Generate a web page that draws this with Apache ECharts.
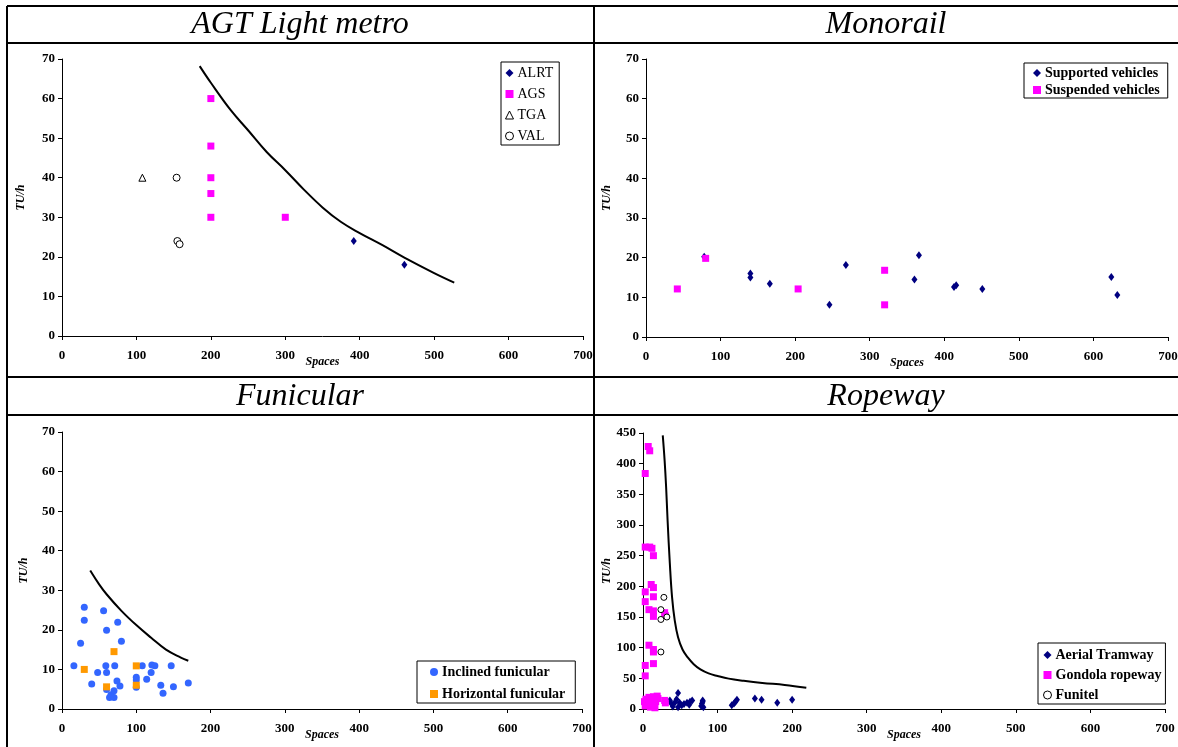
<!DOCTYPE html>
<html>
<head>
<meta charset="utf-8">
<script src="https://cdn.jsdelivr.net/npm/echarts@6/dist/echarts.min.js"></script>
<style>
  html, body { margin: 0; padding: 0; background: #fff; }
  #chart { width: 1178px; height: 747px; }
</style>
</head>
<body>
<div id="chart"></div>
<script>
// AGT Light metro
const alrtData = [[392, 24], [460, 18]];
const agsData = [[200, 60], [200, 48], [200, 40], [200, 36], [200, 30], [300, 30]];
const tgaData = [[108, 40]];
const valData = [[154, 40], [155, 24], [158, 23.2]];
const agtCurve = [[185, 68.2], [200, 64], [227, 57], [250, 52], [275, 46.5], [300, 41.9], [325, 37],
  [350, 32.5], [375, 28.8], [400, 26], [430, 23], [460, 19.8], [500, 15.9], [527, 13.5]];

// Monorail
const supportedData = [[78, 20.2], [140, 16], [140, 15], [166, 13.4], [246, 8.1], [268, 18.1],
  [360, 14.5], [366, 20.6], [413, 12.6], [416, 13], [451, 12.1], [624, 15.1], [632, 10.6]];
const suspendedData = [[42, 12.1], [80, 19.8], [204, 12.1], [320, 16.8], [320, 8.1]];

// Funicular
const inclinedData = [[16, 10.9], [30, 25.7], [30, 22.4], [25, 16.6], [40, 6.3], [48, 9.2], [56, 24.8],
  [60, 19.9], [59, 10.9], [60, 9.2], [60, 4.9], [64, 2.9], [66, 3.6], [70, 2.9], [70, 4.6], [71, 10.9],
  [74, 7.1], [75, 21.9], [78, 5.8], [80, 17.1], [100, 8], [100, 7.3], [100, 5.5], [108, 10.9],
  [114, 7.5], [120, 9.2], [121, 11.1], [125, 10.9], [133, 6], [136, 4], [147, 10.9], [150, 5.6], [170, 6.6]];
const horizontalData = [[30, 10], [60, 5.6], [70, 14.5], [100, 10.9], [100, 6]];
const funicularCurve = [[38, 35], [50, 31.5], [60, 29], [80, 24.8], [100, 21.2], [120, 18],
  [140, 15], [160, 13], [170, 12.2]];

// Ropeway
const tramwayData = [[36, 14], [38, 9], [40, 4], [43, 11], [45, 16], [47, 26], [47, 3], [49, 10],
  [52, 6], [55, 8], [59, 10], [62, 7], [63, 12], [66, 14], [78, 5], [79, 9], [80, 12], [81, 3],
  [80, 14], [119, 6], [122, 9], [124, 12], [126, 15], [150, 17], [159, 15], [180, 10], [200, 15]];
const gondolaData = [[7, 428], [9, 421], [3, 384], [3, 264], [9, 264], [12, 262], [14, 250],
  [11, 203], [14, 198], [3, 191], [14, 183], [3, 175], [8, 162], [14, 160], [14, 151], [29, 157],
  [30, 152], [8, 104], [14, 97], [14, 93], [14, 74], [3, 71], [3, 54],
  [2, 12], [3, 5], [4, 16], [6, 9], [8, 19], [10, 3], [11, 14], [13, 8], [14, 20], [16, 2],
  [17, 12], [19, 21], [20, 17], [29, 14], [30, 10]];
const funitelData = [[28, 182], [24, 162], [24, 146], [32, 150], [24, 93]];
const ropewayCurve = [[26.5, 446], [29, 405], [31, 362], [33, 307], [36, 237], [39, 182], [42.6, 144],
  [47, 117], [53, 97], [60, 84], [68, 73], [77, 64.5], [88, 58], [100, 53.8], [115, 49.5], [135, 46],
  [160, 42.5], [190, 39.3], [219, 34.8]];

const xTicks = [0, 700, 100];

const chart = echarts.init(document.getElementById("chart"));
const serif = "Liberation Serif";
const grids = [];
const xAxes = [];
const yAxes = [];
const series = [];
const legends = [];
const titles = [];

// 一个面板：网格 + 坐标轴
function addPanel(box, yMax, yStep, nameGapY) {
  const idx = grids.length;
  grids.push({ left: box.left, top: box.top, width: box.width, height: box.height, outerBoundsMode: "none" });
  xAxes.push({
    gridIndex: idx,
    type: "value",
    min: xTicks[0],
    max: xTicks[1],
    interval: xTicks[2],
    name: "Spaces",
    nameLocation: "middle",
    nameGap: 20,
    nameMoveOverlap: false,
    nameTextStyle: { fontFamily: serif, fontStyle: "italic", fontWeight: "bold", fontSize: 12, color: "#000" },
    axisLine: { show: true, onZero: false, lineStyle: { color: "#000", width: 1 } },
    axisTick: { show: true, length: 4, lineStyle: { color: "#000" } },
    axisLabel: { margin: 13, fontFamily: serif, fontWeight: "bold", fontSize: 13, color: "#000" },
    splitLine: { show: false },
  });
  yAxes.push({
    gridIndex: idx,
    type: "value",
    min: 0,
    max: yMax,
    interval: yStep,
    name: "TU/h",
    nameLocation: "middle",
    nameGap: nameGapY,
    nameMoveOverlap: false,
    nameTextStyle: { fontFamily: serif, fontStyle: "italic", fontWeight: "bold", fontSize: 12, color: "#000" },
    axisLine: { show: true, onZero: false, lineStyle: { color: "#000", width: 1 } },
    axisTick: { show: true, length: 4, lineStyle: { color: "#000" } },
    axisLabel: { margin: 7, fontFamily: serif, fontWeight: "bold", fontSize: 13, color: "#000" },
    splitLine: { show: false },
  });
  return idx;
}

function addScatter(idx, name, data, symbol, size, fill, border) {
  series.push({
    name: name,
    type: "scatter",
    xAxisIndex: idx,
    yAxisIndex: idx,
    data: data,
    symbol: symbol,
    symbolSize: size,
    itemStyle: border
      ? { color: fill, borderColor: border, borderWidth: 1, opacity: 1 }
      : { color: fill, opacity: 1 },
    emphasis: { disabled: true },
  });
}

function addCurve(idx, data) {
  series.push({
    type: "line",
    xAxisIndex: idx,
    yAxisIndex: idx,
    data: data,
    symbol: "none",
    smooth: 0.4,
    lineStyle: { color: "#000", width: 2 },
    emphasis: { disabled: true },
  });
}

function addLegend(names, left, top, padding, itemGap, bold) {
  legends.push({
    data: names,
    orient: "vertical",
    left: left,
    top: top,
    padding: padding,
    itemGap: itemGap,
    itemWidth: 8,
    itemHeight: 8,
    itemStyle: { borderWidth: "inherit" },
    borderColor: "#000",
    borderWidth: 1,
    backgroundColor: "#fff",
    textStyle: { fontFamily: serif, fontSize: 14, fontWeight: bold ? "bold" : "normal", color: "#000", padding: [0, 0, 0, -1] },
    selectedMode: false,
  });
}

function addTitle(text, x, y) {
  titles.push({
    text: text,
    left: x,
    top: y,
    textAlign: "center",
    padding: 0,
    textStyle: { fontFamily: serif, fontStyle: "italic", fontWeight: "normal", fontSize: 32, color: "#000" },
  });
}

// 配置 AGT 面板
function configAgtPanel() {
  const idx = addPanel({ left: 62, top: 59, width: 521, height: 277 }, 70, 10, 35);
  addCurve(idx, agtCurve);
  addScatter(idx, "ALRT", alrtData, "diamond", [6, 8], "#000080");
  addScatter(idx, "AGS", agsData, "rect", 7, "#FF00FF");
  addScatter(idx, "TGA", tgaData, "triangle", 7, "#fff", "#000");
  addScatter(idx, "VAL", valData, "circle", 7, "#fff", "#000");
  addLegend(["ALRT", "AGS", "TGA", "VAL"], 501, 62, [4, 6, 2, 4], 7, false);
  addTitle("AGT Light metro", 300, 9);
}

// 配置单轨面板
function configMonorailPanel() {
  const idx = addPanel({ left: 646, top: 59, width: 522, height: 278 }, 70, 10, 33);
  addScatter(idx, "Supported vehicles", supportedData, "diamond", [6, 8], "#000080");
  addScatter(idx, "Suspended vehicles", suspendedData, "rect", 7, "#FF00FF");
  addLegend(["Supported vehicles", "Suspended vehicles"], 1024, 63, [3, 8, 1, 9], 3, true);
  addTitle("Monorail", 886, 9);
}

// 配置缆索铁路面板
function configFunicularPanel() {
  const idx = addPanel({ left: 62, top: 432, width: 520, height: 277 }, 70, 10, 32);
  addCurve(idx, funicularCurve);
  addScatter(idx, "Inclined funicular", inclinedData, "circle", 7, "#3366FF");
  addScatter(idx, "Horizontal funicular", horizontalData, "rect", 7, "#FF9900");
  addLegend(["Inclined funicular", "Horizontal funicular"], 417, 661, [4, 10, 2, 13], 8, true);
  addTitle("Funicular", 300, 381);
}

// 配置索道面板
function configRopewayPanel() {
  const idx = addPanel({ left: 643, top: 433, width: 522, height: 276 }, 450, 50, 30);
  addCurve(idx, ropewayCurve);
  addScatter(idx, "Aerial Tramway", tramwayData, "diamond", [6, 8], "#000080");
  addScatter(idx, "Gondola ropeway", gondolaData, "rect", 7, "#FF00FF");
  addScatter(idx, "Funitel", funitelData, "circle", 6, "#fff", "#000");
  addLegend(["Aerial Tramway", "Gondola ropeway", "Funitel"], 1038, 643, [5, 4, 2, 5], 6, true);
  addTitle("Ropeway", 886, 381);
}

configAgtPanel();
configMonorailPanel();
configFunicularPanel();
configRopewayPanel();

// 表格边框
const ruleLines = [
  [7, 6, 1178, 6], [7, 43, 1178, 43], [7, 377, 1178, 377], [7, 415, 1178, 415],
  [7, 6, 7, 747], [594, 6, 594, 747],
];
const graphic = ruleLines.map((l) => ({
  type: "line",
  shape: { x1: l[0], y1: l[1], x2: l[2], y2: l[3] },
  style: { stroke: "#000", lineWidth: 2 },
  silent: true,
}));

chart.setOption({
  animation: false,
  backgroundColor: "#fff",
  title: titles,
  grid: grids,
  xAxis: xAxes,
  yAxis: yAxes,
  legend: legends,
  series: series,
  graphic: graphic,
});
</script>
</body>
</html>
